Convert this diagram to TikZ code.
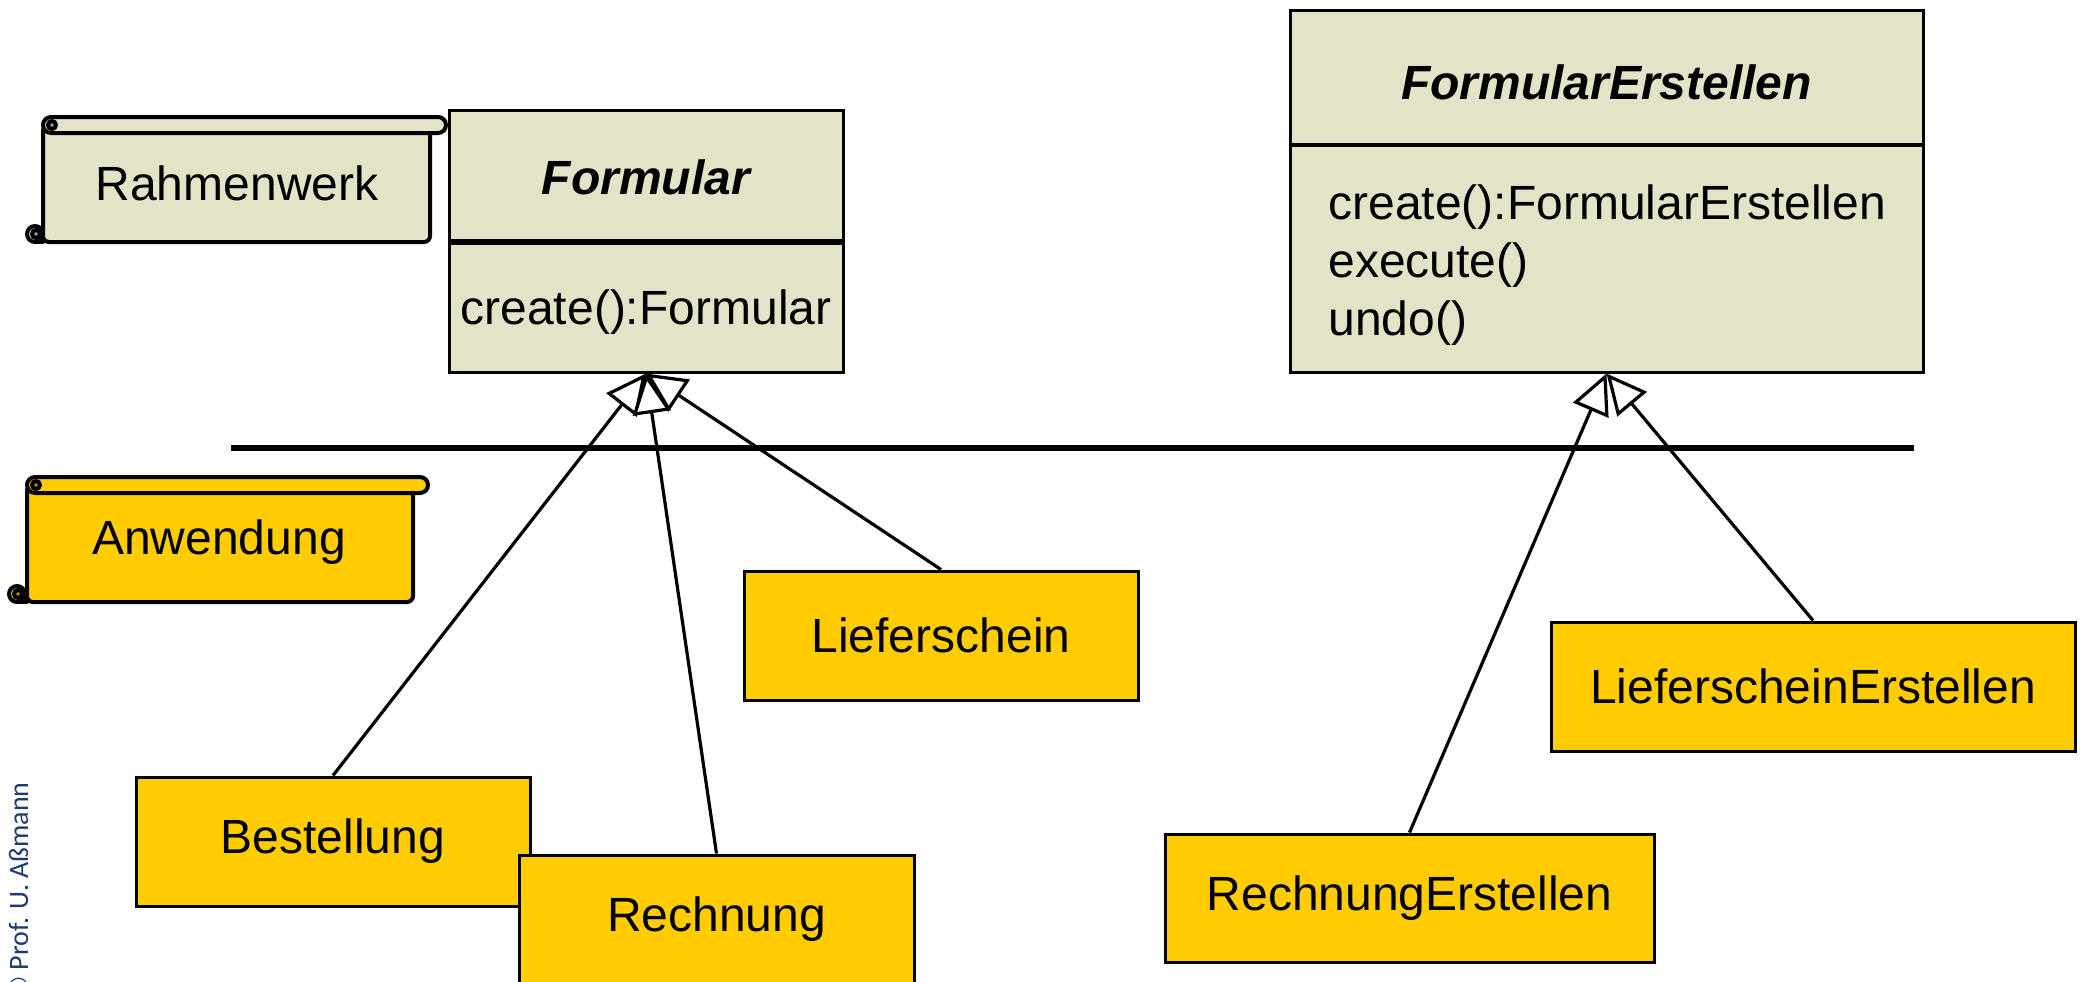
\documentclass[tikz,border=0pt]{standalone}
\usepackage{fontspec}
\setmainfont{Liberation Sans}
\newfontfamily\carlito{Carlito}
\usetikzlibrary{arrows.meta}
\definecolor{beige}{HTML}{E3E3C8}
\definecolor{gold}{HTML}{FFCC00}
\definecolor{copyblue}{HTML}{1F3A6E}
\tikzset{
  big/.style={font=\fontsize{24}{29}\selectfont},
  cls/.style={draw, line width=1.5pt, fill=beige, inner sep=0pt},
  impl/.style={draw, line width=1.5pt, fill=gold, inner sep=0pt, big},
  gen/.style={line width=1.6pt, line join=miter,
    -{Triangle[fill=white, length=20pt, width=19pt, line join=miter]}},
  scrollline/.style={line width=2pt, line join=round, line cap=round},
}
% #1 curl left, #2 body left, #3 top, #4 body right, #5 roll right, #6 bottom, #7 colour
\newcommand\myscroll[7]{%
  \draw[scrollline, fill=#7, rounded corners=3pt]
    (#2,#3+8) -- (#2,#6-8) -- (#2,#6) -- (#4,#6) -- (#4,#3+8) -- cycle;
  \draw[scrollline, fill=#7] (#1+8,#6-8) circle[radius=8];
  \draw[scrollline] (#1+8,#6) -- (#2,#6);
  \draw[scrollline, fill=#7!70!black] (#1+9,#6-8) circle[radius=4];
  \draw[scrollline, fill=#7, rounded corners=4pt] (#2,#3) rectangle (#5,#3+16);
  \draw[scrollline, fill=#7!70!black] (#2+9,#3+8) circle[radius=4];
}
\begin{document}
\begin{tikzpicture}[x=0.5pt, y=-0.5pt]
\useasboundingbox (0,0) rectangle (2083,981);

% scrolls
\myscroll{27}{43}{117}{430}{446}{242}{beige}
\node[big] (rahmen) at (237,183) {Rahmenwerk};
\myscroll{9}{27}{477}{413}{428}{602}{gold}
\node[big] (anw) at (219,542) {Anwendung};

% class Formular
\node[cls, minimum width=197pt, minimum height=131pt] (formular) at (646,241) {};
\draw[line width=2.6pt] (formular.west |- 0,242) -- (formular.east |- 0,242);
\node[big, font=\fontsize{24}{29}\selectfont\bfseries\itshape] (formularT) at (646,177) {Formular};
\node[big] (formularM) at (646,312) {create():Formular};

% class FormularErstellen
\node[cls, minimum width=316.5pt, minimum height=181pt] (ferst) at (1606.5,191) {};
\draw[line width=1.6pt] (ferst.west |- 0,145) -- (ferst.east |- 0,145);
\node[big, font=\fontsize{24}{29}\selectfont\bfseries\itshape] (ferstT) at (1606.5,82) {FormularErstellen};
\node[big, anchor=west, align=left, inner sep=0pt] (ferstM) at (1328,265)
  {create():FormularErstellen\\execute()\\undo()};

% separator line
\draw[line width=3pt] (231,448) -- (1914,448);

% implementation classes
\node[impl, minimum width=197pt, minimum height=64.5pt] (liefer) at (941,635.5) {Lieferschein};
\node[impl, minimum width=197pt, minimum height=64.5pt] (best) at (333,841.5) {Bestellung};
\node[impl, minimum width=197.5pt, minimum height=64.5pt] (rech) at (716.5,919.5) {Rechnung};
\node[impl, minimum width=244.5pt, minimum height=64pt] (rechE) at (1409.5,898) {RechnungErstellen};
\node[impl, minimum width=262pt, minimum height=64.5pt] (lieferE) at (1813,686.5) {LieferscheinErstellen};

% generalisations
\draw[gen] (best.north) -- (formular.south);
\draw[gen] (liefer.north) -- (formular.south);
\draw[gen] (rech.north) -- (formular.south);
\draw[gen] (rechE.north) -- (ferst.south);
\draw[gen] (lieferE.north) -- (ferst.south);

% copyright
\node[rotate=90, anchor=base east, text=copyblue, inner sep=0pt,
  font=\carlito\fontsize{14}{16}\selectfont] (copy) at (28,782) {© Prof. U. Aßmann};
\end{tikzpicture}
\end{document}
